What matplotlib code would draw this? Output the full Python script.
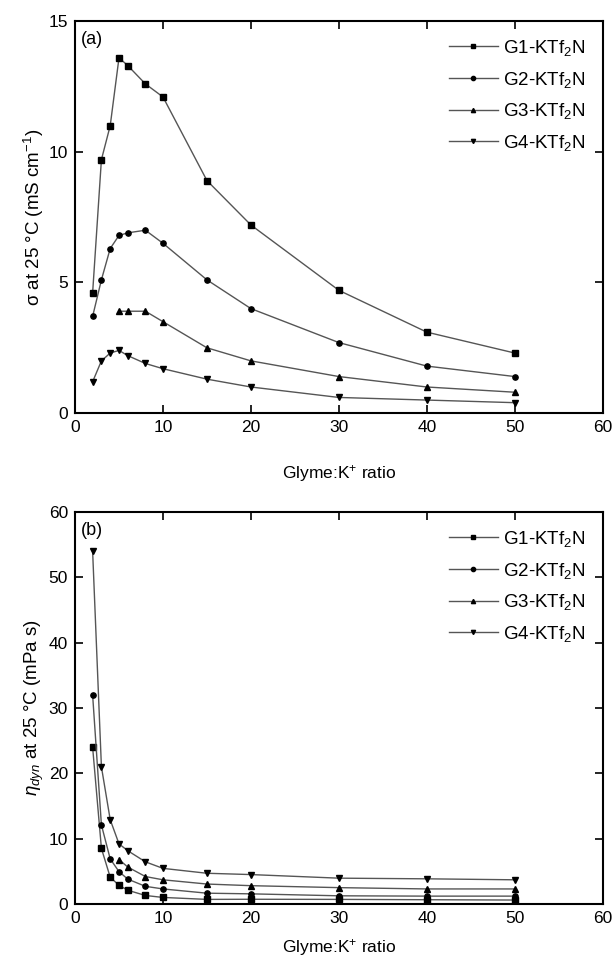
import numpy as np
import matplotlib.pyplot as plt

plt.rcParams['font.family'] = ['Liberation Sans', 'DejaVu Sans']
plt.rcParams['mathtext.fontset'] = 'custom'
plt.rcParams['mathtext.rm'] = 'Liberation Sans'
plt.rcParams['mathtext.it'] = 'Liberation Sans:italic'

# Razão glima:K+ e séries de cada eletrólito
x_full = [2, 3, 4, 5, 6, 8, 10, 15, 20, 30, 40, 50]
x_g3 = [5, 6, 8, 10, 15, 20, 30, 40, 50]

# (a) condutividade a 25 °C (mS cm-1)
cond_g1 = [4.6, 9.7, 11.0, 13.6, 13.3, 12.6, 12.1, 8.9, 7.2, 4.7, 3.1, 2.3]
cond_g2 = [3.7, 5.1, 6.3, 6.8, 6.9, 7.0, 6.5, 5.1, 4.0, 2.7, 1.8, 1.4]
cond_g3 = [3.9, 3.9, 3.9, 3.5, 2.5, 2.0, 1.4, 1.0, 0.8]
cond_g4 = [1.2, 2.0, 2.3, 2.4, 2.2, 1.9, 1.7, 1.3, 1.0, 0.6, 0.5, 0.4]

# (b) viscosidade dinâmica a 25 °C (mPa s)
visc_g1 = [24.0, 8.5, 4.1, 2.85, 2.1, 1.3, 1.0, 0.7, 0.72, 0.7, 0.65, 0.6]
visc_g2 = [32.0, 12.1, 6.9, 4.95, 3.8, 2.7, 2.3, 1.65, 1.55, 1.25, 1.2, 1.2]
visc_g3 = [6.8, 5.65, 4.2, 3.7, 3.05, 2.8, 2.5, 2.3, 2.3]
visc_g4 = [54.0, 21.0, 12.9, 9.2, 8.15, 6.45, 5.45, 4.7, 4.5, 3.95, 3.85, 3.7]

labels = ['G1-KTf$_2$N', 'G2-KTf$_2$N', 'G3-KTf$_2$N', 'G4-KTf$_2$N']
markers = ['s', 'o', '^', 'v']

fig = plt.figure(figsize=(6.15, 9.63), dpi=100)
ax_a = fig.add_axes([0.122, 0.571, 0.858, 0.407])
ax_b = fig.add_axes([0.122, 0.0613, 0.858, 0.407])


def plot_series(ax, series):
    for (xs, ys), lab, mk in zip(series, labels, markers):
        ax.plot(xs, ys, color='#555555', lw=1.0, marker=mk, ms=3.8,
                mfc='black', mec='black', label=lab)


def style_axes(ax, ylim, yticks, ylabel, tag, xpad):
    ax.set_xlim(0, 60)
    ax.set_ylim(*ylim)
    ax.set_xticks(np.arange(0, 61, 10))
    ax.set_yticks(yticks)
    ax.tick_params(direction='in', length=6, width=1.2, labelsize=12.5,
                   top=True, right=True, pad=5)
    for s in ax.spines.values():
        s.set_linewidth(1.5)
    ax.set_xlabel('Glyme:K$^{+}$ ratio', fontsize=12.5, labelpad=xpad)
    ax.set_ylabel(ylabel, fontsize=13.5, labelpad=2)
    ax.text(0.012, 0.975, tag, transform=ax.transAxes, fontsize=13,
            ha='left', va='top')
    ax.legend(loc='upper right', frameon=False, fontsize=13.5,
              handlelength=2.6, handletextpad=0.3, labelspacing=0.62,
              markerscale=0.8, borderaxespad=0.5)


plot_series(ax_a, [(x_full, cond_g1), (x_full, cond_g2),
                   (x_g3, cond_g3), (x_full, cond_g4)])
style_axes(ax_a, (0, 15), [0, 5, 10, 15],
           'σ at 25 °C (mS cm$^{-1}$)', '(a)', 20)

plot_series(ax_b, [(x_full, visc_g1), (x_full, visc_g2),
                   (x_g3, visc_g3), (x_full, visc_g4)])
style_axes(ax_b, (0, 60), np.arange(0, 61, 10),
           '$\\eta_{dyn}$ at 25 °C (mPa s)', '(b)', 8)

fig.savefig('out.png', dpi=100)
